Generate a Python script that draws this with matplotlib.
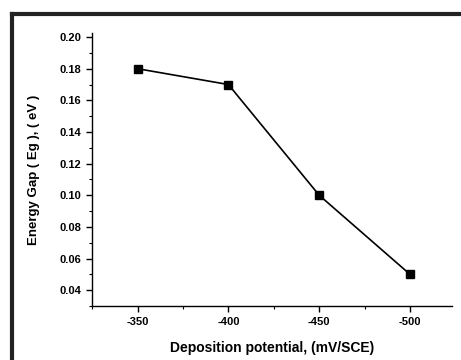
import matplotlib.pyplot as plt
from matplotlib.lines import Line2D
from matplotlib.ticker import MultipleLocator

potential = [-350, -400, -450, -500]
energy_gap = [0.18, 0.17, 0.10, 0.05]

plt.rcParams['font.family'] = ['Liberation Sans', 'DejaVu Sans']
plt.rcParams['font.weight'] = 'bold'
plt.rcParams['axes.unicode_minus'] = False

fig = plt.figure(figsize=(4.61, 3.6), dpi=100)
ax = fig.add_axes([0.2, 0.15, 0.78, 0.758])

ax.plot(potential, energy_gap, color='black', lw=1.2, marker='s', ms=5.5,
        markerfacecolor='black')

ax.set_xlim(-325, -523)
ax.set_ylim(0.03, 0.2025)
ax.xaxis.set_major_locator(MultipleLocator(50))
ax.xaxis.set_minor_locator(MultipleLocator(25))
ax.yaxis.set_major_locator(MultipleLocator(0.02))
ax.yaxis.set_minor_locator(MultipleLocator(0.01))
ax.yaxis.set_major_formatter(plt.FormatStrFormatter('%.2f'))

for s in ['top', 'right']:
    ax.spines[s].set_visible(False)
for s in ['left', 'bottom']:
    ax.spines[s].set_linewidth(1.0)

ax.tick_params(which='major', direction='out', length=4, width=1, labelsize=8, pad=4)
ax.tick_params(which='minor', direction='out', length=2, width=0.8)

ax.set_xlabel('Deposition potential, (mV/SCE)', fontsize=10, fontweight='bold', labelpad=10)
ax.set_ylabel('Energy Gap ( Eg ), ( eV )', fontsize=9.5, fontweight='bold', labelpad=14)

# outer frame (left and top edges visible)
fig.add_artist(Line2D([12/461, 12/461], [0, 1 - 14/360], transform=fig.transFigure,
                      color='#222222', lw=3))
fig.add_artist(Line2D([12/461, 1], [1 - 14/360, 1 - 14/360], transform=fig.transFigure,
                      color='#222222', lw=3))

fig.savefig('out.png', dpi=100)
